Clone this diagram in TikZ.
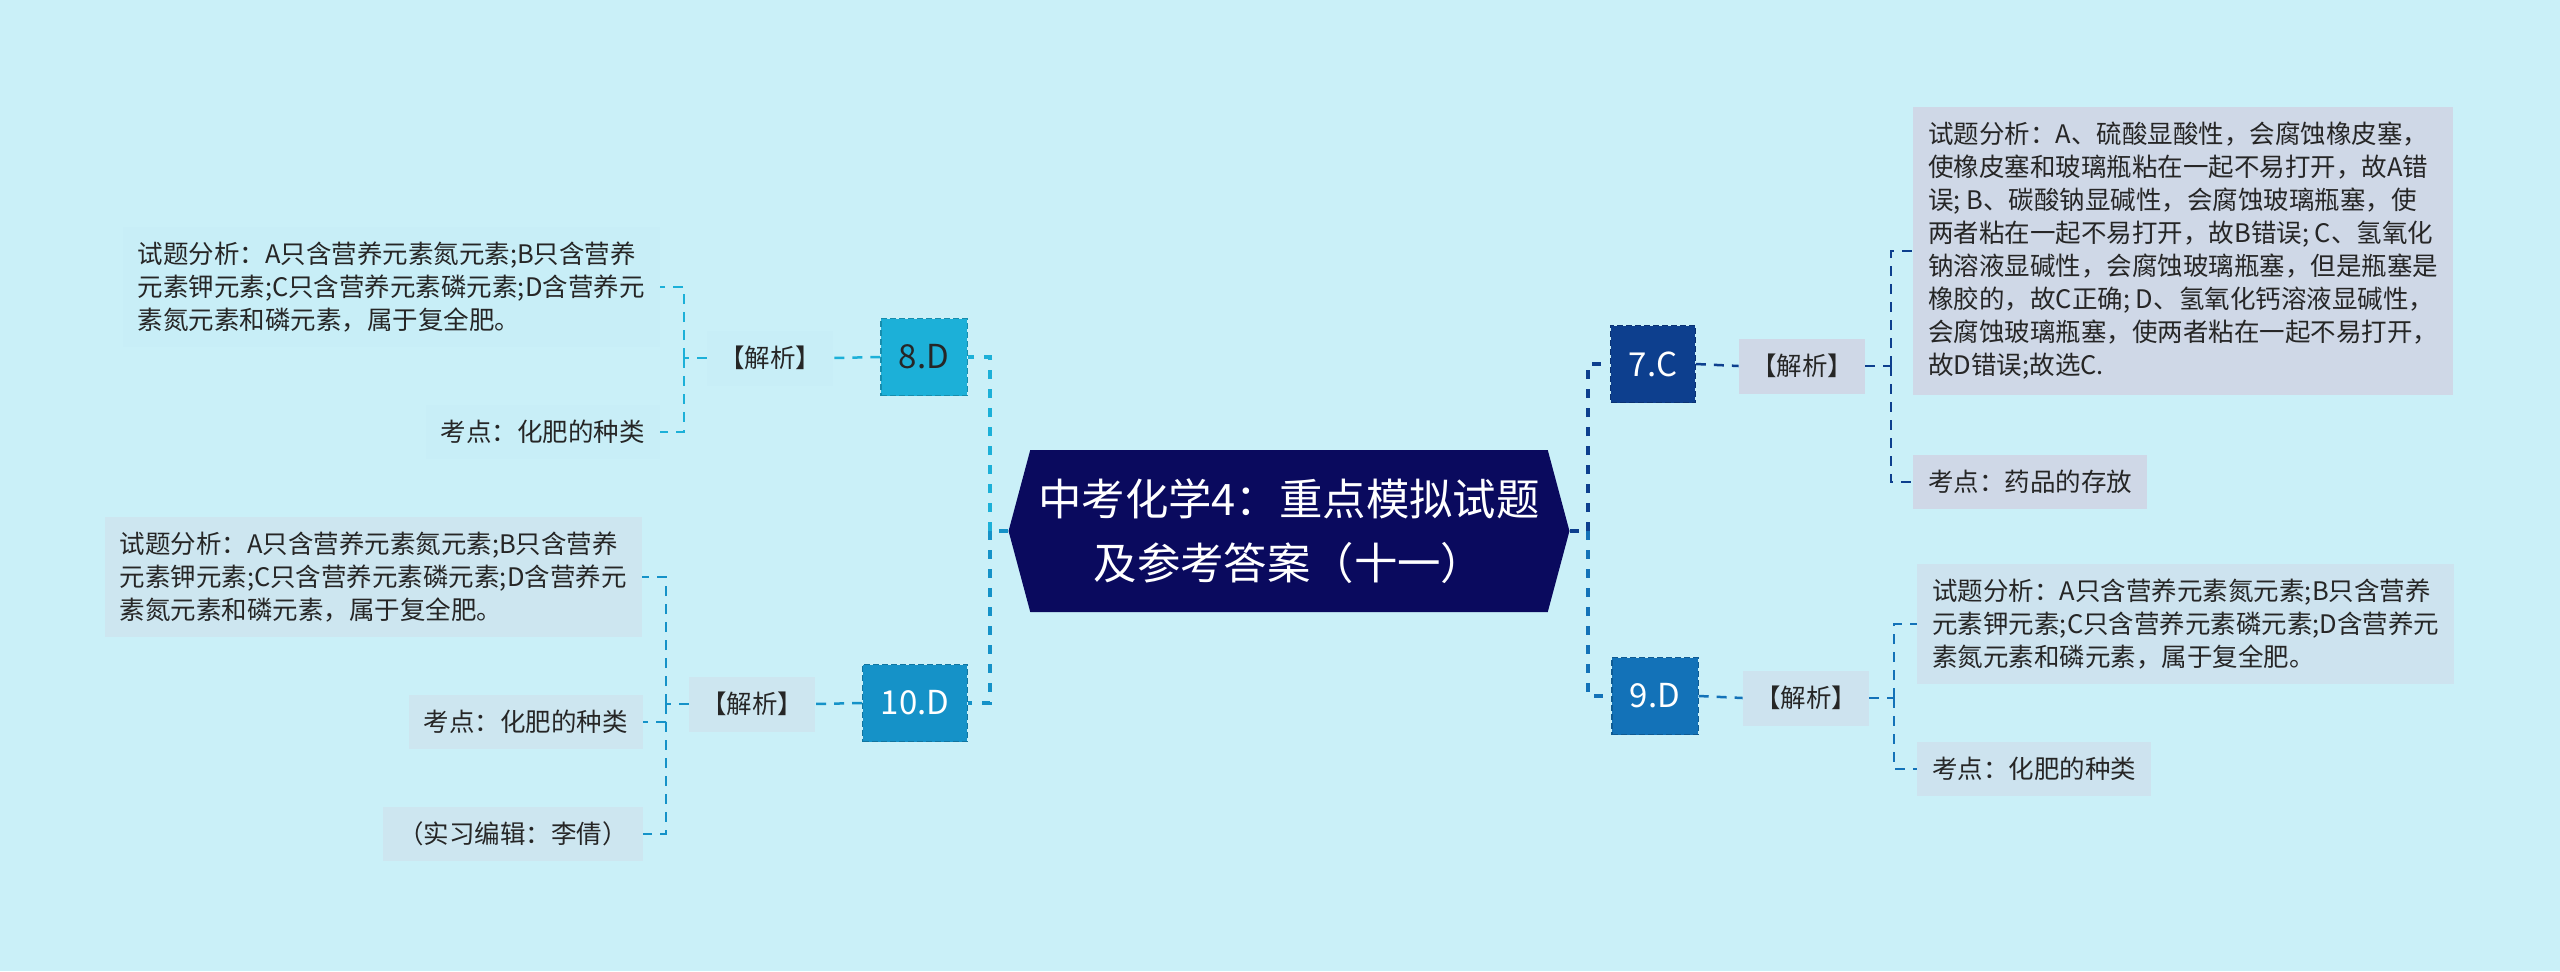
\documentclass[tikz,border=0pt]{standalone}
\usepackage{fontspec}
\setmainfont{Noto Sans CJK SC}
\usepackage{xcolor}
\usetikzlibrary{shapes.symbols}

\definecolor{canvas}{HTML}{CAF0F8}
\definecolor{hubfill}{HTML}{0A0A5E}
\definecolor{cyanA}{HTML}{1CB0D8}
\definecolor{cyanB}{HTML}{1592C8}
\definecolor{navyA}{HTML}{0D3F8E}
\definecolor{blueB}{HTML}{1372B8}
\definecolor{inkdark}{HTML}{262626}
\definecolor{boxA}{HTML}{C8EEF7}
\definecolor{boxB}{HTML}{CDE6F0}
\definecolor{boxC}{HTML}{CFD8E7}
\definecolor{boxD}{HTML}{CDE3EF}

\tikzset{
  hub/.style={signal, signal to=west and east, signal pointer angle=150,
    fill=hubfill, text=white, align=center, minimum width=276pt,
    minimum height=81pt, inner sep=4pt,
    font=\fontsize{21.7pt}{32pt}\selectfont},
  numbox/.style={draw=#1!80!black, fill=#1, dashed, line width=0.6pt,
    dash pattern=on 3pt off 1.5pt, text=white, minimum height=38.5pt,
    minimum width=41pt, inner xsep=9pt, font=\fontsize{16.5pt}{20pt}\selectfont},
  tagbox/.style={fill=#1, text=inkdark, minimum height=27.5pt,
    inner xsep=6pt, font=\fontsize{12.75pt}{16.5pt}\selectfont},
  infobox/.style={fill=#1, text=inkdark, align=left, inner sep=7.5pt,
    font=\fontsize{12.75pt}{16.5pt}\selectfont},
  trunk/.style={draw=#1, line width=2pt, dash pattern=on 4.5pt off 5pt},
  twig/.style={draw=#1, line width=1.25pt, dash pattern=on 5pt off 4pt},
}

\begin{document}
\begin{tikzpicture}[x=0.5pt,y=-0.5pt]
  % --- canvas 2560 x 971, y grows downwards ---
  \fill[canvas] (0,0) rectangle (2560,971);
  \useasboundingbox (0,0) rectangle (2560,971);

  % Central topic
  \node[hub] (hub) at (1289,531) {中考化学4：重点模拟试题\\及参考答案（十一）};

  % Answer nodes — left pair, right pair
  \node[numbox=cyanA, text=inkdark] (d8) at (924,357) {8.D};
  \node[numbox=cyanB] (d10) at (915,703) {10.D};
  \node[numbox=navyA] (d7) at (1653,364) {7.C};
  \node[numbox=blueB] (d9) at (1655,696) {9.D};

  % 【解析】 tags
  \node[tagbox=boxA] (a8) at (770,358) {【解析】};
  \node[tagbox=boxB] (a10) at (752,704) {【解析】};
  \node[tagbox=boxC] (a7) at (1802,366) {【解析】};
  \node[tagbox=boxD] (a9) at (1806,698) {【解析】};

  % Left texts (right-aligned to their bracket)
  \node[infobox=boxA, anchor=east] (t8a) at (660,287)
    {试题分析：A只含营养元素氮元素;B只含营养\\元素钾元素;C只含营养元素磷元素;D含营养元\\素氮元素和磷元素，属于复全肥。};
  \node[infobox=boxA, anchor=east] (t8b) at (660,432) {考点：化肥的种类};
  \node[infobox=boxB, anchor=east] (t10a) at (642,577)
    {试题分析：A只含营养元素氮元素;B只含营养\\元素钾元素;C只含营养元素磷元素;D含营养元\\素氮元素和磷元素，属于复全肥。};
  \node[infobox=boxB, anchor=east] (t10b) at (643,722) {考点：化肥的种类};
  \node[infobox=boxB, anchor=east] (t10c) at (643,834) {（实习编辑：李倩）};

  % Right texts
  \node[infobox=boxC, anchor=west] (t7a) at (1913,251)
    {试题分析：A、硫酸显酸性，会腐蚀橡皮塞，\\使橡皮塞和玻璃瓶粘在一起不易打开，故A错\\误; B、碳酸钠显碱性，会腐蚀玻璃瓶塞，使\\两者粘在一起不易打开，故B错误; C、氢氧化\\钠溶液显碱性，会腐蚀玻璃瓶塞，但是瓶塞是\\橡胶的，故C正确; D、氢氧化钙溶液显碱性，\\会腐蚀玻璃瓶塞，使两者粘在一起不易打开，\\故D错误;故选C.};
  \node[infobox=boxC, anchor=west] (t7b) at (1913,482) {考点：药品的存放};
  \node[infobox=boxD, anchor=west] (t9a) at (1917,624)
    {试题分析：A只含营养元素氮元素;B只含营养\\元素钾元素;C只含营养元素磷元素;D含营养元\\素氮元素和磷元素，属于复全肥。};
  \node[infobox=boxD, anchor=west] (t9b) at (1917,769) {考点：化肥的种类};

  % Junctions of the elbow connectors
  \coordinate (jL) at (990,531);
  \coordinate (jR) at (1588,531);
  \coordinate (j8) at (684,358);
  \coordinate (j10) at (666,704);
  \coordinate (j7) at (1891,366);
  \coordinate (j9) at (1894,698);

  % Trunk: hub to answers
  \draw[trunk=cyanB] (hub.west) -- (jL);
  \draw[trunk=cyanA] (jL) |- (d8.east);
  \draw[trunk=cyanB] (jL) |- (d10.east);
  \draw[trunk=navyA] (hub.east) -- (jR);
  \draw[trunk=navyA] (jR) |- (d7.west);
  \draw[trunk=blueB] (jR) |- (d9.west);

  % Twigs: answer -> tag -> texts
  \draw[twig=cyanA] (d8.west) -- (a8.east);
  \draw[twig=cyanA] (a8.west) -- (j8);
  \draw[twig=cyanA] (j8) |- (t8a.east);
  \draw[twig=cyanA] (j8) |- (t8b.east);

  \draw[twig=cyanB] (d10.west) -- (a10.east);
  \draw[twig=cyanB] (a10.west) -- (j10);
  \draw[twig=cyanB] (j10) |- (t10a.east);
  \draw[twig=cyanB] (j10) |- (t10b.east);
  \draw[twig=cyanB] (j10) |- (t10c.east);

  \draw[twig=navyA] (d7.east) -- (a7.west);
  \draw[twig=navyA] (a7.east) -- (j7);
  \draw[twig=navyA] (j7) |- (t7a.west);
  \draw[twig=navyA] (j7) |- (t7b.west);

  \draw[twig=blueB] (d9.east) -- (a9.west);
  \draw[twig=blueB] (a9.east) -- (j9);
  \draw[twig=blueB] (j9) |- (t9a.west);
  \draw[twig=blueB] (j9) |- (t9b.west);
\end{tikzpicture}
\end{document}
